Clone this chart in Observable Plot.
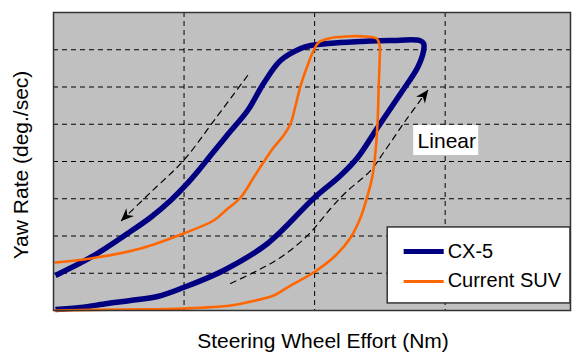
<!DOCTYPE html>
<html>
<head>
<meta charset="utf-8">
<script src="https://cdn.jsdelivr.net/npm/d3@7"></script>
<script src="https://cdn.jsdelivr.net/npm/@observablehq/plot@0.6"></script>
<style>
  html, body { margin: 0; padding: 0; background: white; }
  #chart svg { display: block; }
</style>
</head>
<body>
<div id="chart"></div>
<script>
// ---- Data (arbitrary units, no tick labels on the axes) ----
const xTicks = [1, 2, 3];
const yTicks = [1, 2, 3, 4, 5, 6, 7];

const seriesNames = ["CX-5", "Current SUV"];

// CX-5 hysteresis loop (effort, yaw rate)
const cx5X = [0.015,0.207,0.414,0.590,0.797,0.996,1.303,1.640,1.992,2.199,2.330,2.483,2.659,2.789,2.835,2.835,2.805,2.582,2.352,2.199,1.969,1.893,1.739,1.609,1.487,1.341,1.203,1.111,1.011,0.897,0.743,0.567,0.284,0.015];
const cx5Y = [0.027,0.081,0.188,0.268,0.376,0.617,1.074,1.799,3.007,3.624,4.107,4.913,5.826,6.523,6.980,7.168,7.248,7.248,7.221,7.195,7.114,7.034,6.711,6.094,5.369,4.752,4.161,3.758,3.356,2.953,2.497,2.067,1.423,0.940];

// Current SUV hysteresis loop
const suvX = [0.015,0.513,0.996,1.356,1.548,1.686,1.816,1.992,2.161,2.276,2.352,2.406,2.444,2.467,2.483,2.490,2.498,2.498,2.475,2.391,2.238,2.107,2.031,1.992,1.946,1.893,1.854,1.816,1.762,1.686,1.602,1.533,1.433,1.318,1.226,0.996,0.667,0.284,0.015];
const suvY = [0.000,0.027,0.054,0.134,0.268,0.403,0.671,1.020,1.477,1.960,2.497,3.087,3.624,4.295,5.101,5.906,6.711,7.114,7.302,7.356,7.356,7.302,7.195,6.980,6.577,6.040,5.503,5.020,4.698,4.376,3.946,3.570,3.034,2.685,2.416,2.067,1.664,1.396,1.289];

// Dashed guide arrows
const arrowDownX = [1.487,1.241,0.996,0.743,0.521];
const arrowDownY = [6.309,5.154,4.027,3.168,2.416];
const arrowUpX = [1.356,1.563,1.739,1.946,2.123,2.238,2.429,2.529,2.697,2.866];
const arrowUpY = [0.725,1.074,1.423,2.013,2.738,3.168,3.758,4.242,5.101,5.906];

// Text
const xTitle = "Steering Wheel Effort (Nm)";
const yTitle = "Yaw Rate (deg./sec)";
const noteText = "Linear";

// ---- Annotation layout (in data units) ----
const legendBox = {x1: 2.56, x2: 3.96, y1: 0.19, y2: 2.23};
const legendRows = [
  {name: seriesNames[0], lx1: 2.682, lx2: 2.989, ly: 1.584, tx: 3.019, ty: 1.575},
  {name: seriesNames[1], lx1: 2.682, lx2: 2.989, ly: 0.779, tx: 3.019, ty: 0.805}
];
const noteBox = {x1: 2.759, x2: 3.257, y1: 4.161, y2: 4.966, tx: 2.789, ty: 4.55};

const colors = {"CX-5": "#000080", "Current SUV": "#ff6600"};
const widths = {"CX-5": 5.5, "Current SUV": 2.6};
const legendWidths = {"CX-5": 5, "Current SUV": 3.2};

const toPts = (xs, ys) => xs.map((x, i) => ({x, y: ys[i]}));
const cx5 = toPts(cx5X, cx5Y);
const suv = toPts(suvX, suvY);
const arrowDown = toPts(arrowDownX, arrowDownY);
const arrowUp = toPts(arrowUpX, arrowUpY);

// filled "stealth" arrowhead marker
function stealth(color, context) {
  const doc = (context && context.document) || document;
  const ns = "http://www.w3.org/2000/svg";
  const m = doc.createElementNS(ns, "marker");
  m.setAttribute("viewBox", "-13 -7 15 14");
  m.setAttribute("markerWidth", 15);
  m.setAttribute("markerHeight", 14);
  m.setAttribute("markerUnits", "userSpaceOnUse");
  m.setAttribute("orient", "auto");
  m.setAttribute("refX", 0);
  m.setAttribute("refY", 0);
  const p = doc.createElementNS(ns, "path");
  p.setAttribute("d", "M1,0L-12,-5.5L-8,0L-12,5.5Z");
  p.setAttribute("fill", "black");
  p.setAttribute("stroke", "none");
  p.setAttribute("stroke-dasharray", "none");
  m.appendChild(p);
  return m;
}

const chart = Plot.plot({
  width: 584,
  height: 354,
  marginLeft: 53,
  marginRight: 14,
  marginTop: 12,
  marginBottom: 44,
  x: {domain: [0, 3.96], axis: null},
  y: {domain: [0, 8], axis: null},
  style: {background: "white", fontFamily: "'Liberation Sans', Arial, sans-serif", color: "black"},
  marks: [
    Plot.frame({fill: "#c0c0c0"}),
    Plot.gridX(xTicks, {stroke: "black", strokeOpacity: 1, strokeWidth: 1, strokeDasharray: "5,4"}),
    Plot.gridY(yTicks, {stroke: "black", strokeOpacity: 1, strokeWidth: 1, strokeDasharray: "5,4"}),
    Plot.line(arrowDown, {x: "x", y: "y", curve: "catmull-rom", stroke: "black", strokeWidth: 1.2, strokeDasharray: "6,5", markerEnd: stealth}),
    Plot.line(arrowUp, {x: "x", y: "y", curve: "catmull-rom", stroke: "black", strokeWidth: 1.2, strokeDasharray: "6,5", markerEnd: stealth}),
    Plot.line(cx5, {x: "x", y: "y", curve: "catmull-rom", stroke: colors["CX-5"], strokeWidth: widths["CX-5"], strokeLinejoin: "round", strokeLinecap: "butt"}),
    Plot.line(suv, {x: "x", y: "y", curve: "catmull-rom", stroke: colors["Current SUV"], strokeWidth: widths["Current SUV"], strokeLinejoin: "round"}),
    // "Linear" note
    Plot.rect([noteBox], {x1: "x1", x2: "x2", y1: "y1", y2: "y2", fill: "white"}),
    Plot.text([noteBox], {x: "tx", y: "ty", text: () => noteText, textAnchor: "start", lineAnchor: "middle", fontSize: 21, fill: "black"}),
    // legend
    Plot.rect([legendBox], {x1: "x1", x2: "x2", y1: "y1", y2: "y2", fill: "white", stroke: "#333", strokeWidth: 1.5}),
    Plot.link(legendRows, {x1: "lx1", x2: "lx2", y1: "ly", y2: "ly", stroke: d => colors[d.name], strokeWidth: d => legendWidths[d.name]}),
    Plot.text(legendRows, {x: "tx", y: "ty", text: "name", textAnchor: "start", lineAnchor: "middle", fontSize: 20, fill: "black"}),
    // border
    Plot.frame({stroke: "#333", strokeWidth: 1.5}),
    // axis titles
    Plot.text([xTitle], {frameAnchor: "bottom", textAnchor: "middle", lineAnchor: "middle", dx: 11, dy: 31, fontSize: 21, fill: "black"}),
    Plot.text([yTitle], {frameAnchor: "left", textAnchor: "middle", lineAnchor: "middle", dx: -32, dy: 3.5, rotate: -90, fontSize: 21, fill: "black"})
  ]
});

document.getElementById("chart").appendChild(chart);
</script>
</body>
</html>
